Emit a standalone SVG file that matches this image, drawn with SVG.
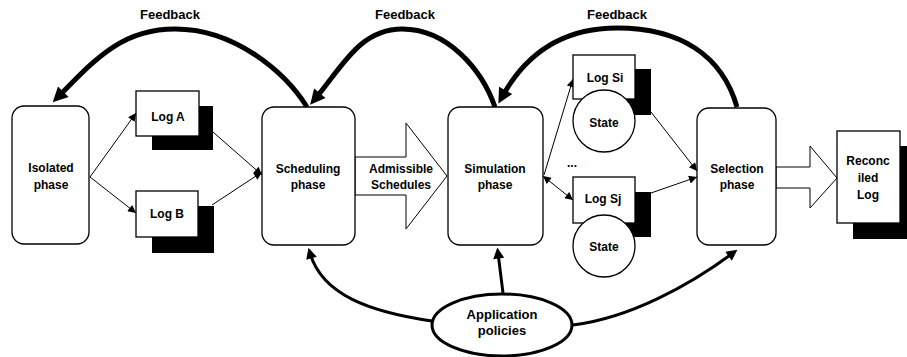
<svg xmlns="http://www.w3.org/2000/svg" width="907" height="357" viewBox="0 0 907 357">
<style>
.t{font-family:"Liberation Sans",Arial,sans-serif;font-size:12px;font-weight:bold;text-anchor:middle;fill:#000}
.fb{font-size:13px}
.box{fill:#fff;stroke:#000;stroke-width:1.3}
.sh{fill:#000}
.thin{fill:none;stroke:#000;stroke-width:1}
.med{fill:none;stroke:#000;stroke-width:3}
.thick{fill:none;stroke:#000;stroke-width:5}
.big{fill:#fff;stroke:#000;stroke-width:1}
</style>
<defs>
<marker id="s" viewBox="0 0 10 10" refX="10" refY="5" markerWidth="11" markerHeight="8" orient="auto-start-reverse" markerUnits="userSpaceOnUse"><path d="M0,0L10,5L0,10z"/></marker>
<marker id="m" viewBox="0 0 10 10" refX="5" refY="5" markerWidth="15" markerHeight="11" orient="auto" markerUnits="userSpaceOnUse"><path d="M0,0L10,5L0,10z"/></marker>
<marker id="b" viewBox="0 0 10 10" refX="5" refY="5" markerWidth="22" markerHeight="15" orient="auto" markerUnits="userSpaceOnUse"><path d="M0,0L10,5L0,10z"/></marker>
</defs>

<g id="connectors">
<path class="thick" d="M307,107 C285,72 235,29 175,29 C120,29 93,62 58,97" marker-end="url(#b)"/>
<path class="thick" d="M495,107 C482,70 448,29 402,29 C360,29 342,67 315,99" marker-end="url(#b)"/>
<path class="thick" d="M737,107 C722,55 680,28 617,28 C562,28 525,55 502,97" marker-end="url(#b)"/>
<text class="t fb" x="170" y="19">Feedback</text>
<text class="t fb" x="405" y="19">Feedback</text>
<text class="t fb" x="617" y="19">Feedback</text>
<line class="thin" x1="90" y1="177" x2="136" y2="113" marker-end="url(#s)"/>
<line class="thin" x1="90" y1="177" x2="136" y2="213" marker-end="url(#s)"/>
<line class="thin" x1="213" y1="132" x2="262" y2="175" marker-end="url(#s)"/>
<line class="thin" x1="212" y1="205" x2="262" y2="172" marker-end="url(#s)"/>
<line class="thin" x1="544" y1="175" x2="573" y2="79" marker-end="url(#s)"/>
<line class="thin" x1="543" y1="176" x2="573" y2="200" marker-start="url(#s)" marker-end="url(#s)"/>
<line class="thin" x1="651" y1="112" x2="697" y2="171" marker-end="url(#s)"/>
<line class="thin" x1="651" y1="193" x2="697" y2="177" marker-end="url(#s)"/>
<path class="med" d="M432,321 C370,312 322,295 310,253" marker-end="url(#m)"/>
<line class="med" x1="503" y1="293" x2="498" y2="253" marker-end="url(#m)"/>
<path class="med" d="M573,325 C630,318 690,285 733,253" marker-end="url(#m)"/>
<polygon class="big" points="355,157 406,157 406,123 447,176 406,229 406,195 355,195"/>
<text class="t" x="401" y="173">Admissible</text>
<text class="t" x="401" y="189">Schedules</text>
<polygon class="big" points="776,167 810,167 810,146 837,178 810,208 810,188 776,188"/>
</g>

<g id="isolated">
<rect class="box" x="12" y="106" width="77" height="138" rx="12"/>
<text class="t" x="51" y="172">Isolated</text>
<text class="t" x="51" y="189">phase</text>
</g>

<g id="logA">
<rect class="sh" x="152" y="106" width="61" height="44"/>
<rect class="box" x="136" y="91" width="63" height="45"/>
<text class="t" x="168" y="121">Log A</text>
</g>

<g id="logB">
<rect class="sh" x="152" y="206" width="62" height="47"/>
<rect class="box" x="136" y="191" width="62" height="46"/>
<text class="t" x="167" y="218">Log  B</text>
</g>

<g id="scheduling">
<rect class="box" x="262" y="107" width="93" height="138" rx="12"/>
<text class="t" x="308" y="173">Scheduling</text>
<text class="t" x="308" y="189">phase</text>
</g>

<g id="simulation">
<rect class="box" x="448" y="107" width="95" height="138" rx="12"/>
<text class="t" x="495" y="173">Simulation</text>
<text class="t" x="495" y="189">phase</text>
</g>

<g id="logSi">
<rect class="sh" x="589" y="69" width="62" height="46"/>
<rect class="box" x="573" y="55" width="62" height="44"/>
<circle class="box" cx="604" cy="121" r="31"/>
<text class="t" x="605" y="82">Log Si</text>
<text class="t" x="604" y="127">State</text>
</g>

<text class="t" x="572" y="167">...</text>

<g id="logSj">
<rect class="sh" x="589" y="192" width="62" height="45"/>
<rect class="box" x="573" y="177" width="62" height="46"/>
<circle class="box" cx="604" cy="246" r="31"/>
<text class="t" x="603" y="203">Log Sj</text>
<text class="t" x="604" y="251">State</text>
</g>

<g id="selection">
<rect class="box" x="697" y="108" width="79" height="137" rx="12"/>
<text class="t" x="737" y="173">Selection</text>
<text class="t" x="737" y="189">phase</text>
</g>

<g id="reconciled">
<rect class="sh" x="853" y="146" width="63" height="93"/>
<rect class="box" x="837" y="131" width="63" height="92"/>
<text class="t" x="868" y="165">Reconc</text>
<text class="t" x="868" y="182">iled</text>
<text class="t" x="868" y="199">Log</text>
</g>

<g id="policies">
<ellipse cx="502" cy="325" rx="70" ry="31" fill="#fff" stroke="#000" stroke-width="3"/>
<text class="t fb" x="502" y="319">Application</text>
<text class="t fb" x="502" y="335">policies</text>
</g>
</svg>
